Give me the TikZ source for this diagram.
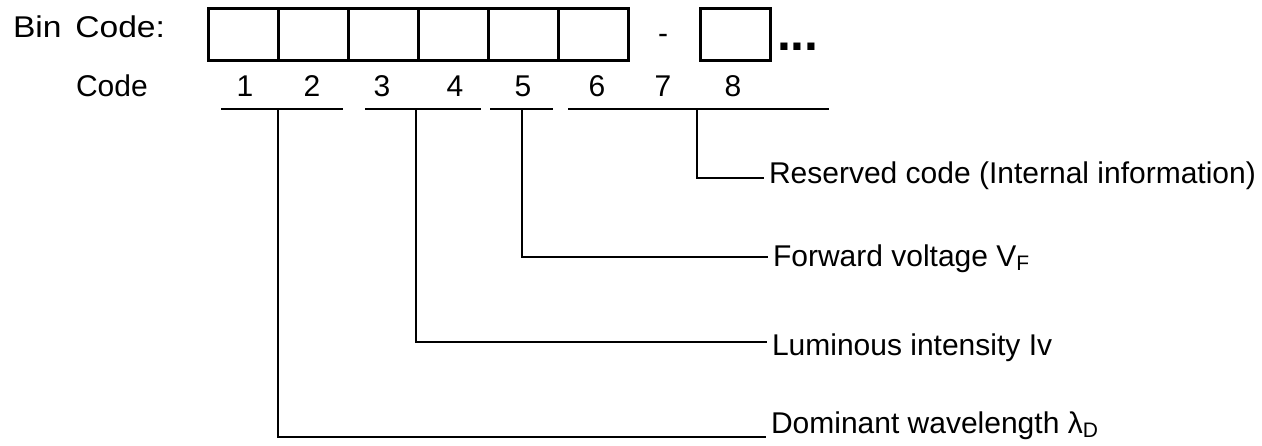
\documentclass[tikz,border=0pt]{standalone}
\usepackage{fontspec}
\setmainfont{Liberation Sans}
\tikzset{
  cell/.style={draw, line width=1.5pt, minimum width=35pt, minimum height=26pt, inner sep=0pt},
  lbl/.style={anchor=base west, inner sep=2pt},
}
\begin{document}
\begin{tikzpicture}[x=0.5pt, y=-0.5pt, line width=1pt,
  every node/.append style={font=\fontsize{15}{18}\selectfont}]
\useasboundingbox (0,0) rectangle (1262,445);
\node[anchor=base west, inner sep=0pt] (bin) at (12, 37) {\scalebox{1.12}[1]{Bin\hspace{2pt} Code:}};
\node[anchor=base west, inner sep=0pt] (code) at (75, 96) {Code};
\node[cell](c1) at (243, 34) {};
\node[cell](c2) at (313, 34) {};
\node[cell](c3) at (383, 34) {};
\node[cell](c4) at (453, 34) {};
\node[cell](c5) at (523, 34) {};
\node[cell](c6) at (593, 34) {};
\node[anchor=base](dash) at (663, 43) {-};
\node[cell](c8) at (735, 34) {};
\node[anchor=base west, inner sep=0pt, font=\fontsize{25}{25}\selectfont\bfseries](more) at (776, 50) {...};
\node[anchor=base](d1) at (245, 96) {1};
\node[anchor=base](d2) at (312, 96) {2};
\node[anchor=base](d3) at (382, 96) {3};
\node[anchor=base](d4) at (455, 96) {4};
\node[anchor=base](d5) at (523, 96) {5};
\node[anchor=base](d6) at (597, 96) {6};
\node[anchor=base](d7) at (663, 96) {7};
\node[anchor=base](d8) at (733, 96) {8};
% underlines of the code groups
\coordinate (g1a) at (221, 109);
\coordinate (g1b) at (343, 109);
\coordinate (g2a) at (365, 109);
\coordinate (g2b) at (481, 109);
\coordinate (g3a) at (490, 109);
\coordinate (g3b) at (553, 109);
\coordinate (g4a) at (568, 109);
\coordinate (g4b) at (829, 109);
\coordinate (u1) at (278, 109);
\coordinate (u2) at (416, 109);
\coordinate (u3) at (522, 109);
\coordinate (u4) at (697, 109);
\draw (g1a) -- (g1b);
\draw (g2a) -- (g2b);
\draw (g3a) -- (g3b);
\draw (g4a) -- (g4b);
% labels
\node[lbl](res) at (764, 183) {Reserved code (Internal information)};
\node[lbl](vf) at (768, 266) {Forward voltage V\textsubscript{F}};
\node[lbl](iv) at (767, 355) {Luminous intensity Iv};
\node[lbl](ld) at (766, 433) {Dominant wavelength λ\textsubscript{D}};
\draw (u4) |- ([yshift=2.5pt]res.base west);
\draw (u3) |- ([yshift=4.5pt]vf.base west);
\draw (u2) |- ([yshift=6.5pt]iv.base west);
\draw (u1) |- ([yshift=-2pt]ld.base west);
\end{tikzpicture}
\end{document}
